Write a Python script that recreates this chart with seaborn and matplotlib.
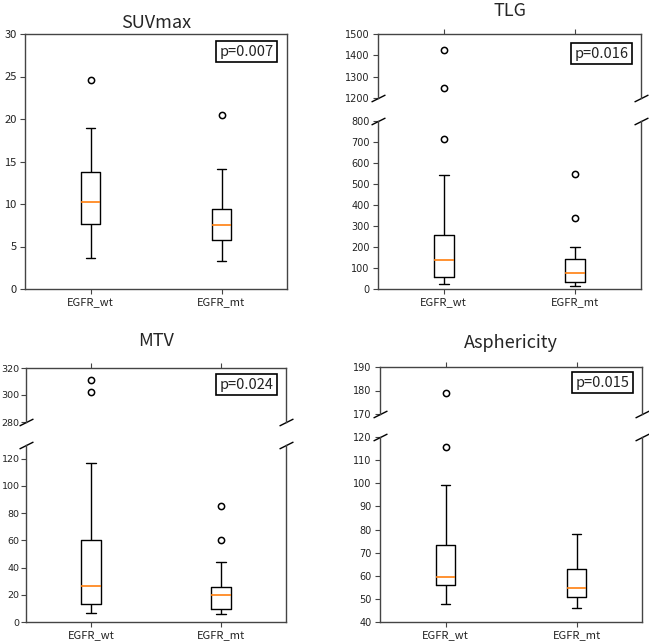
import numpy as np
import pandas as pd
import matplotlib.pyplot as plt
import seaborn as sns

groups = ["EGFR_wt", "EGFR_mt"]

# values: lower whisker, Q1 (x4), median (x4), Q3 (x4), upper whisker, outliers
suv_wt = [3.7] + [7.7] * 4 + [10.2] * 4 + [13.8] * 4 + [19.0, 24.6]
suv_mt = [3.3] + [5.8] * 4 + [7.5] * 4 + [9.4] * 4 + [14.1, 20.5]
tlg_wt = [25] + [58] * 4 + [140] * 4 + [258] * 4 + [545, 713, 1245, 1425]
tlg_mt = [15] + [32] * 4 + [77] * 4 + [143] * 4 + [200, 336, 546]
mtv_wt = [6.5] + [13.5] * 4 + [26.5] * 4 + [60.0] * 4 + [117.0, 302.0, 311.0]
mtv_mt = [6.0] + [9.5] * 4 + [20.0] * 4 + [25.5] * 4 + [44.0, 60.5, 85.0]
asp_wt = [47.7] + [56.0] * 4 + [59.5] * 4 + [73.5] * 4 + [99.2, 115.5, 179.0]
asp_mt = [46.2] + [51.0] * 4 + [54.5] * 4 + [62.8] * 4 + [78.2]

titles = ["SUVmax", "TLG", "MTV", "Asphericity"]
pvals = ["p=0.007", "p=0.016", "p=0.024", "p=0.015"]

sns.set_style("ticks")
plt.rcParams["font.family"] = ["Noto Sans CJK JP", "DejaVu Sans"]

W, H = 649, 641
fig = plt.figure(figsize=(W / 100, H / 100), dpi=100)


def rect(l, t, r, b):
    return [l / W, 1 - b / H, (r - l) / W, (b - t) / H]


def style(ax):
    for s in ax.spines.values():
        s.set_color("#444444")
        s.set_linewidth(1.0)
    ax.tick_params(colors="#444444", labelcolor="#222222", labelsize=8, length=3.5,
                   width=0.8, pad=2.5)
    ax.set_xlabel("")
    ax.set_ylabel("")


def draw_box(ax, wt, mt):
    df = pd.DataFrame({"group": [groups[0]] * len(wt) + [groups[1]] * len(mt),
                       "value": wt + mt})
    sns.boxplot(data=df, x="group", y="value", order=groups, ax=ax,
                width=0.15, fill=False, color="black", linewidth=1.0, whis=1.5,
                medianprops=dict(color="#ff7f0e", linewidth=1.2),
                flierprops=dict(marker="o", markerfacecolor="none",
                                markeredgecolor="black", markersize=4.5, markeredgewidth=1.1))
    ax.set_xlim(-0.5, 1.5)
    style(ax)


def pbox(ax, text, dx, dy):
    # box edge offsets in pixels from the axes' top-right corner
    ax.annotate(text, xy=(1, 1), xycoords="axes fraction",
                xytext=(-dx - 3.6, -dy - 3.6), textcoords="offset pixels",
                ha="right", va="top", fontsize=10.5, color="#222222",
                bbox=dict(boxstyle="square,pad=0.25", facecolor="white",
                          edgecolor="black", linewidth=1.2))


def broken(top_r, bot_r, wt, mt, top_lim, top_ticks, bot_lim, bot_ticks, title, ptxt, pad, dy,
           ysize=7, ypad=2.5):
    ax_t = fig.add_axes(rect(*top_r))
    ax_b = fig.add_axes(rect(*bot_r))
    for ax in (ax_t, ax_b):
        draw_box(ax, wt, mt)
    ax_t.set_ylim(*top_lim)
    ax_t.set_yticks(top_ticks)
    ax_b.set_ylim(*bot_lim)
    ax_b.set_yticks(bot_ticks)
    ax_t.spines["bottom"].set_visible(False)
    ax_b.spines["top"].set_visible(False)
    ax_t.xaxis.tick_top()
    ax_t.tick_params(labeltop=False)
    for ax in (ax_t, ax_b):
        for lab in ax.get_yticklabels():
            lab.set_family("DejaVu Sans")
        ax.tick_params(axis="y", labelsize=ysize, pad=ypad)
    d = .5
    kw = dict(marker=[(-1, -d), (1, d)], markersize=10, linestyle="none",
              color="k", mec="k", mew=1, clip_on=False)
    ax_t.plot([0, 1], [0, 0], transform=ax_t.transAxes, **kw)
    ax_b.plot([0, 1], [1, 1], transform=ax_b.transAxes, **kw)
    ax_t.set_title(title, fontsize=13, pad=pad)
    pbox(ax_t, ptxt, 9, dy)
    return ax_t, ax_b


# SUVmax
ax = fig.add_axes(rect(25, 34, 287, 289))
draw_box(ax, suv_wt, suv_mt)
ax.set_ylim(0, 30)
ax.set_yticks(np.arange(0, 31, 5))
ax.set_title(titles[0], fontsize=13, pad=4)
pbox(ax, pvals[0], 10, 7)

# TLG
broken((378, 34, 641, 98), (378, 121, 641, 289), tlg_wt, tlg_mt,
       (1200, 1500), [1200, 1300, 1400, 1500], (0, 800), np.arange(0, 801, 100),
       titles[1], pvals[1], 13, 9)

# MTV
broken((26, 368, 286, 422), (26, 445, 286, 622), mtv_wt, mtv_mt,
       (280, 320), [280, 300, 320], (0, 130), np.arange(0, 121, 20),
       titles[2], pvals[2], 16, 6, ysize=6.8, ypad=1.2)

# Asphericity
broken((380, 367, 642, 414), (380, 437, 642, 622), asp_wt, asp_mt,
       (170, 190), [170, 180, 190], (40, 120), np.arange(40, 121, 10),
       titles[3], pvals[3], 14, 5)

plt.savefig("out.png", dpi=100)
